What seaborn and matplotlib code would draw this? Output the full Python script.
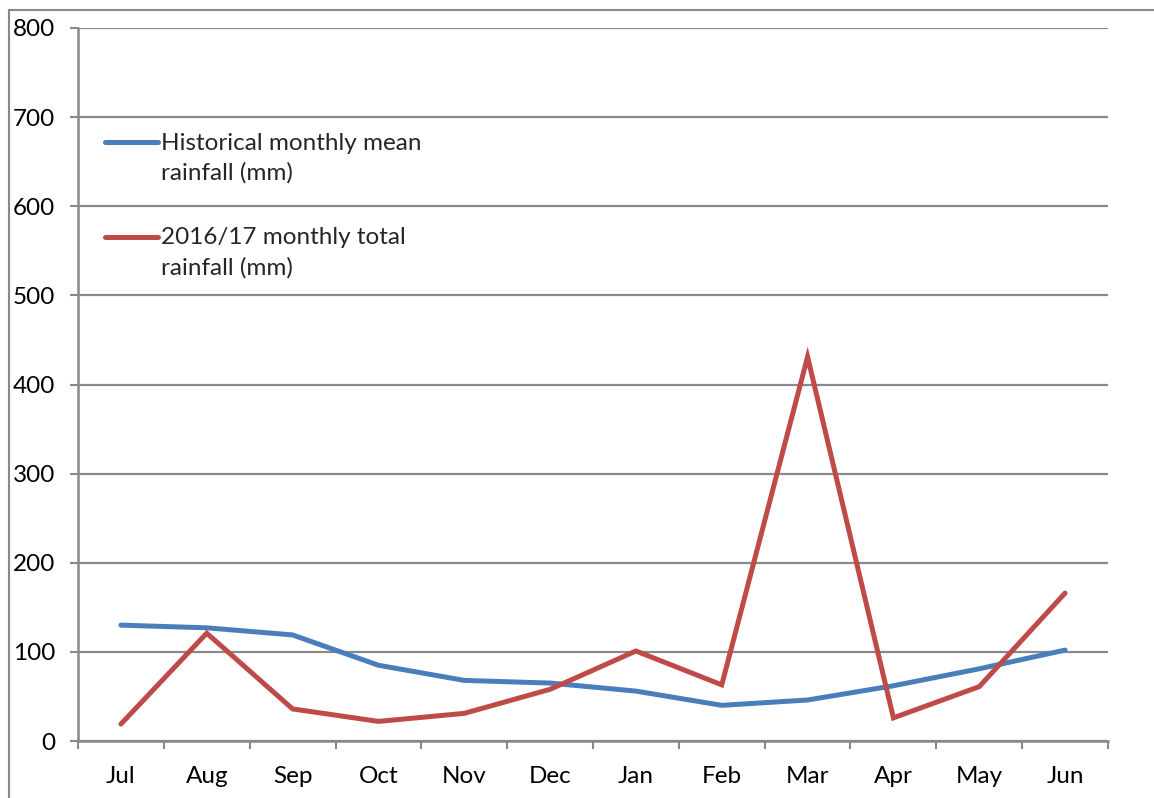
import matplotlib
matplotlib.use("Agg")
import matplotlib.pyplot as plt
import seaborn as sns
import pandas as pd
from matplotlib.lines import Line2D
from matplotlib.legend_handler import HandlerLine2D

months = ["Jul", "Aug", "Sep", "Oct", "Nov", "Dec", "Jan", "Feb", "Mar", "Apr", "May", "Jun"]
historical_mean = [130, 127, 119, 85, 68, 65, 56, 40, 46, 62, 81, 102]
total_2016_17 = [19, 121, 36, 22, 31, 58, 101, 63, 431, 26, 61, 166]
label_hist = "Historical monthly mean\nrainfall (mm)"
label_tot = "2016/17 monthly total\nrainfall (mm)"
y_ticks = [0, 100, 200, 300, 400, 500, 600, 700, 800]

blue = "#4A7EBB"
red = "#BE4B48"
grey = "#898989"
FS = 17.5
LW = 3.6

sns.set_theme(style="white")
plt.rcParams["font.family"] = ["Lato", "DejaVu Sans"]

df = pd.DataFrame({
    "month": months * 2,
    "pos": list(range(len(months))) * 2,
    "value": historical_mean + total_2016_17,
    "series": [label_hist] * len(months) + [label_tot] * len(months),
})

fig = plt.figure(figsize=(11.54, 7.98), dpi=100)
ax = fig.add_axes([78 / 1154, 1 - 741 / 798, (1108 - 78) / 1154, (741 - 28) / 798])

sns.lineplot(data=df, x="pos", y="value", hue="series",
             palette={label_hist: blue, label_tot: red},
             linewidth=LW, ax=ax, legend=False, sort=False)
for l in ax.lines:
    l.set_solid_capstyle("round")
    l.set_solid_joinstyle("miter")

ax.set_xlim(-0.5, len(months) - 0.5)
ax.set_ylim(0, 800)
ax.set_yticks(y_ticks)
ax.set_yticklabels([str(v) for v in y_ticks])
ax.set_xticks(range(len(months)))
ax.set_xticklabels(months)
ax.set_xticks([i - 0.5 for i in range(len(months) + 1)], minor=True)
ax.set_xlabel("")
ax.set_ylabel("")

ax.grid(axis="y", color=grey, linewidth=1.6)
ax.set_axisbelow(True)
for s in ["top", "right"]:
    ax.spines[s].set_visible(False)
for s in ["left", "bottom"]:
    ax.spines[s].set_color(grey)
    ax.spines[s].set_linewidth(1.8)

ax.tick_params(axis="y", which="major", length=6, width=1.5, color=grey,
               labelsize=FS, pad=10.5, left=True, labelcolor="black")
ax.tick_params(axis="x", which="major", length=0, labelsize=FS, pad=18, labelcolor="black")
ax.tick_params(axis="x", which="minor", length=6, width=1.5, color=grey, bottom=True)


class TopLineHandler(HandlerLine2D):
    """Place the legend line next to the first text line."""
    def __init__(self, shift, **kw):
        super().__init__(**kw)
        self.shift = shift

    def create_artists(self, legend, orig_handle, xdescent, ydescent,
                       width, height, fontsize, trans):
        arts = super().create_artists(legend, orig_handle, xdescent, ydescent,
                                      width, height, fontsize, trans)
        for a in arts:
            if isinstance(a, Line2D):
                a.set_ydata([y + self.shift for y in a.get_ydata()])
        return arts


handles = [Line2D([0], [0], color=blue, linewidth=LW, solid_capstyle="round"),
           Line2D([0], [0], color=red, linewidth=LW, solid_capstyle="round")]
shift_pt = 11.5
leg = ax.legend(handles, [label_hist, label_tot], loc="upper left",
                bbox_to_anchor=(0.005, 0.884), frameon=False, fontsize=FS,
                handlelength=2.2, handletextpad=0.1, labelspacing=1.78,
                handler_map={h: TopLineHandler(shift_pt) for h in handles})
for t in leg.get_texts():
    t.set_linespacing(1.5)

# outer border of the chart area
fig.add_artist(plt.Rectangle((9 / 1154, -0.01), 1.2, 1 - 10 / 798 + 0.01,
                             transform=fig.transFigure, fill=False,
                             edgecolor=grey, linewidth=1.5))

fig.savefig("out.png", dpi=100)
